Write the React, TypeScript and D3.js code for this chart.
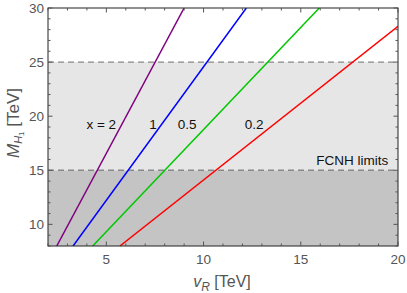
import { useRef, useEffect } from 'react';
import { select, scaleLinear, line, range } from 'd3';

// series: x value and two end points [vR, M]
const seriesNames = ['x = 2', '1', '0.5', '0.2'];
const seriesColors = ['#800080', '#0000ff', '#00c800', '#ff0000'];
const seriesPoints: [number, number][][] = [
  [[2.45, 8], [9.0, 30]],
  [[3.29, 8], [12.2, 30]],
  [[4.3, 8], [15.95, 30]],
  [[5.7, 8], [20, 28.3]],
];
// label anchor positions (data coords)
const labelPos: [number, number][] = [
  [5.5, 18.8],
  [7.4, 18.8],
  [9.15, 18.8],
  [12.6, 18.8],
];

const xTicks = [5, 10, 15, 20];
const yTicks = [10, 15, 20, 25, 30];
const bands = [
  { from: 8, to: 15, fill: '#c4c4c4' },
  { from: 15, to: 25, fill: '#e6e6e6' },
];
const limitLines = [15, 25];

const W = 407;
const H = 293;
const margin = { top: 8, right: 9, bottom: 47, left: 48 };
const font = 'Liberation Sans, Arial, sans-serif';

const App = () => {
  const ref = useRef<SVGSVGElement>(null);

  useEffect(() => {
    const svg = select(ref.current);
    svg.selectAll('*').remove();

    const x = scaleLinear().domain([2, 20]).range([margin.left, W - margin.right]);
    const y = scaleLinear().domain([8, 30]).range([H - margin.bottom, margin.top]);
    const [x0, x1] = x.range();
    const [y0, y1] = y.range();

    const g = svg.append('g');

    g.selectAll('rect.band')
      .data(bands)
      .join('rect')
      .attr('x', x0)
      .attr('width', x1 - x0)
      .attr('y', (d) => y(d.to))
      .attr('height', (d) => y(d.from) - y(d.to))
      .attr('fill', (d) => d.fill);

    g.selectAll('line.limit')
      .data(limitLines)
      .join('line')
      .attr('x1', x0)
      .attr('x2', x1)
      .attr('y1', (d) => y(d))
      .attr('y2', (d) => y(d))
      .attr('stroke', '#888')
      .attr('stroke-width', 1.3)
      .attr('stroke-dasharray', '6,4');

    svg
      .append('clipPath')
      .attr('id', 'plotclip')
      .append('rect')
      .attr('x', x0)
      .attr('y', y1)
      .attr('width', x1 - x0)
      .attr('height', y0 - y1);

    const ln = line<[number, number]>()
      .x((d) => x(d[0]))
      .y((d) => y(d[1]));

    g.selectAll('path.series')
      .data(seriesPoints)
      .join('path')
      .attr('clip-path', 'url(#plotclip)')
      .attr('d', (d) => ln(d))
      .attr('fill', 'none')
      .attr('stroke', (_, i) => seriesColors[i])
      .attr('stroke-width', 1.5);

    g.selectAll('text.lab')
      .data(seriesNames)
      .join('text')
      .attr('x', (_, i) => x(labelPos[i][0]))
      .attr('y', (_, i) => y(labelPos[i][1]))
      .attr('text-anchor', (_, i) => (i === 0 ? 'end' : 'middle'))
      .attr('font-family', font)
      .attr('font-size', 13.5)
      .attr('fill', '#111')
      .text((d) => d);

    g.append('text')
      .attr('x', x(19.5))
      .attr('y', y(15) - 5)
      .attr('text-anchor', 'end')
      .attr('font-family', font)
      .attr('font-size', 13.5)
      .attr('fill', '#111')
      .text('FCNH limits');

    // frame
    g.append('rect')
      .attr('x', x0)
      .attr('y', y1)
      .attr('width', x1 - x0)
      .attr('height', y0 - y1)
      .attr('fill', 'none')
      .attr('stroke', '#222')
      .attr('stroke-width', 1);

    // ticks on all four sides, pointing inward
    const tickCol = '#555';
    range(2, 21).forEach((v) => {
      const len = v % 5 === 0 ? 4.5 : 2.5;
      g.append('line').attr('x1', x(v)).attr('x2', x(v)).attr('y1', y0).attr('y2', y0 - len).attr('stroke', tickCol);
      g.append('line').attr('x1', x(v)).attr('x2', x(v)).attr('y1', y1).attr('y2', y1 + len).attr('stroke', tickCol);
    });
    range(8, 31).forEach((v) => {
      const len = v % 5 === 0 ? 4.5 : 2.5;
      g.append('line').attr('y1', y(v)).attr('y2', y(v)).attr('x1', x0).attr('x2', x0 + len).attr('stroke', tickCol);
      g.append('line').attr('y1', y(v)).attr('y2', y(v)).attr('x1', x1).attr('x2', x1 - len).attr('stroke', tickCol);
    });

    g.selectAll('text.xt')
      .data(xTicks)
      .join('text')
      .attr('x', (d) => x(d))
      .attr('y', y0 + 18)
      .attr('text-anchor', 'middle')
      .attr('font-family', font)
      .attr('font-size', 13.5)
      .attr('fill', '#555')
      .text((d) => d);

    g.selectAll('text.yt')
      .data(yTicks)
      .join('text')
      .attr('x', x0 - 4)
      .attr('y', (d) => y(d) + 4.5)
      .attr('text-anchor', 'end')
      .attr('font-family', font)
      .attr('font-size', 13.5)
      .attr('fill', '#555')
      .text((d) => d);

    const xl = g
      .append('text')
      .attr('x', 222)
      .attr('y', 287)
      .attr('text-anchor', 'middle')
      .attr('font-family', font)
      .attr('font-size', 16)
      .attr('fill', '#555');
    xl.append('tspan').attr('font-style', 'italic').text('v');
    xl.append('tspan').attr('font-style', 'italic').attr('font-size', 12).attr('dy', 4).text('R');
    xl.append('tspan').attr('dy', -4).text(' [TeV]');

    const yl = g
      .append('text')
      .attr('transform', `translate(19,123) rotate(-90)`)
      .attr('text-anchor', 'middle')
      .attr('font-family', font)
      .attr('font-size', 17)
      .attr('fill', '#555');
    yl.append('tspan').attr('font-style', 'italic').text('M');
    yl.append('tspan').attr('font-style', 'italic').attr('font-size', 11).attr('dy', 3).text('H');
    yl.append('tspan').attr('font-size', 8).attr('dy', 2).text('1');
    yl.append('tspan').attr('dy', -5).text(' [TeV]');
  }, []);

  return <svg ref={ref} width={W} height={H} style={{ position: 'absolute', left: 0, top: 0 }} />;
};

export default App;
